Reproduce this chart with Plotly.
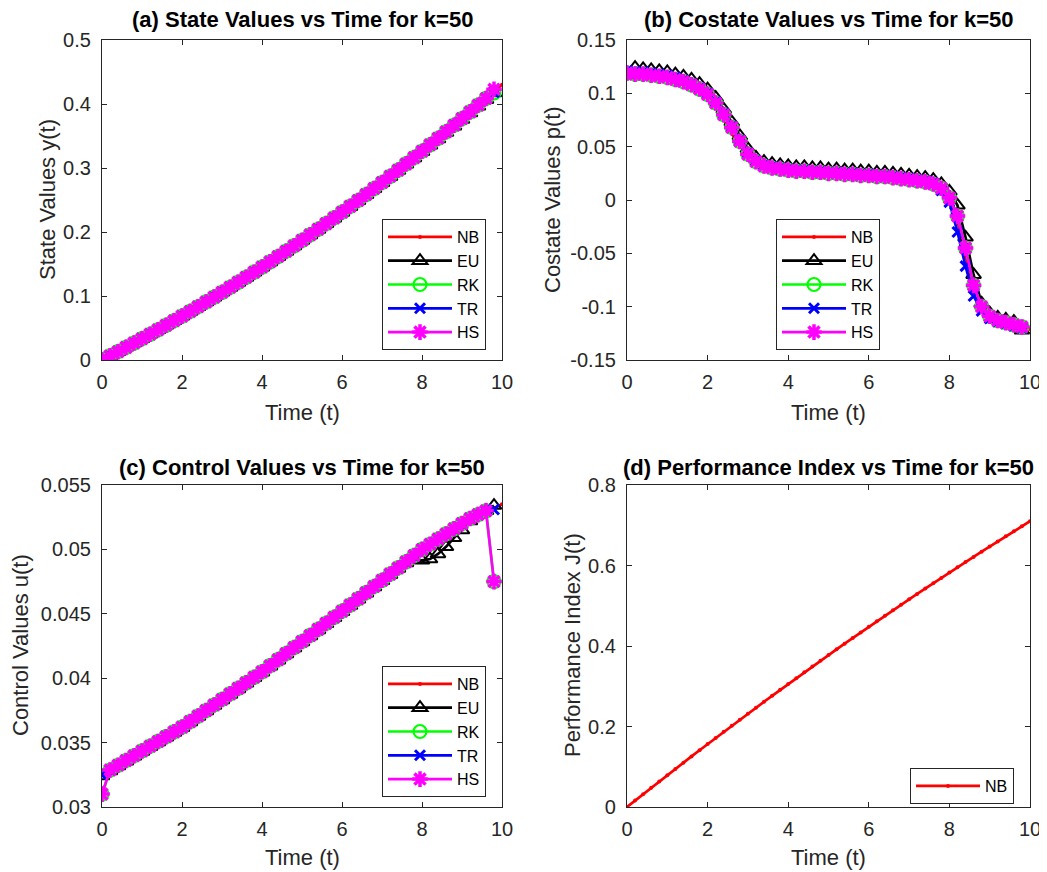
import plotly.graph_objects as go

# ---------------- data ----------------
t50 = [0.0, 0.2, 0.4, 0.6, 0.8, 1.0, 1.2, 1.4, 1.6, 1.8,
       2.0, 2.2, 2.4, 2.6, 2.8, 3.0, 3.2, 3.4, 3.6, 3.8,
       4.0, 4.2, 4.4, 4.6, 4.8, 5.0, 5.2, 5.4, 5.6, 5.8,
       6.0, 6.2, 6.4, 6.6, 6.8, 7.0, 7.2, 7.4, 7.6, 7.8,
       8.0, 8.2, 8.4, 8.6, 8.8, 9.0, 9.2, 9.4, 9.6, 9.8]
t51 = t50 + [10.0]

# (a) state y(t)
y_NB = [0.0, 0.00654, 0.01315, 0.01984, 0.02660, 0.03343, 0.04034, 0.04732, 0.05438, 0.06151,
        0.06871, 0.07599, 0.08336, 0.09082, 0.09836, 0.10599, 0.11370, 0.12150, 0.12939, 0.13736,
        0.14542, 0.15357, 0.16181, 0.17015, 0.17858, 0.18710, 0.19572, 0.20443, 0.21324, 0.22214,
        0.23113, 0.24022, 0.24940, 0.25868, 0.26806, 0.27753, 0.28710, 0.29676, 0.30652, 0.31638,
        0.32633, 0.33637, 0.34649, 0.35669, 0.36697, 0.37733, 0.38777, 0.39828, 0.40885, 0.41947, 0.43014]
y_EU = [0.0, 0.00650, 0.01308, 0.01975, 0.02650, 0.03331, 0.04020, 0.04717, 0.05421, 0.06133,
        0.06852, 0.07578, 0.08313, 0.09057, 0.09810, 0.10571, 0.11340, 0.12118, 0.12905, 0.13700,
        0.14504, 0.15317, 0.16139, 0.16971, 0.17812, 0.18662, 0.19522, 0.20391, 0.21270, 0.22158,
        0.23055, 0.23962, 0.24878, 0.25804, 0.26740, 0.27685, 0.28640, 0.29604, 0.30578, 0.31562,
        0.32555, 0.33540, 0.34530, 0.35530, 0.36540, 0.37560, 0.38590, 0.39630, 0.40670, 0.41700]
y_RK = [0.0, 0.00640, 0.01300, 0.01970, 0.02645, 0.03328, 0.04019, 0.04717, 0.05423, 0.06136,
        0.06856, 0.07584, 0.08321, 0.09067, 0.09821, 0.10584, 0.11355, 0.12135, 0.12924, 0.13721,
        0.14527, 0.15342, 0.16166, 0.17000, 0.17843, 0.18695, 0.19557, 0.20428, 0.21309, 0.22199,
        0.23098, 0.24007, 0.24925, 0.25853, 0.26791, 0.27738, 0.28695, 0.29661, 0.30637, 0.31623,
        0.32618, 0.33622, 0.34634, 0.35654, 0.36682, 0.37718, 0.38762, 0.39813, 0.40870, 0.41740]
y_TR = [0.0, 0.00654, 0.01315, 0.01984, 0.02660, 0.03343, 0.04034, 0.04732, 0.05438, 0.06151,
        0.06871, 0.07599, 0.08336, 0.09082, 0.09836, 0.10599, 0.11370, 0.12150, 0.12939, 0.13736,
        0.14542, 0.15357, 0.16181, 0.17015, 0.17858, 0.18710, 0.19572, 0.20443, 0.21324, 0.22214,
        0.23113, 0.24022, 0.24940, 0.25868, 0.26806, 0.27753, 0.28710, 0.29676, 0.30652, 0.31638,
        0.32633, 0.33637, 0.34649, 0.35669, 0.36697, 0.37733, 0.38777, 0.39828, 0.40885, 0.41850]
y_HS = [0.0, 0.00640, 0.01300, 0.01970, 0.02645, 0.03328, 0.04019, 0.04717, 0.05423, 0.06136,
        0.06856, 0.07584, 0.08321, 0.09067, 0.09821, 0.10584, 0.11355, 0.12135, 0.12924, 0.13721,
        0.14527, 0.15342, 0.16166, 0.17000, 0.17843, 0.18695, 0.19557, 0.20428, 0.21309, 0.22199,
        0.23098, 0.24007, 0.24925, 0.25853, 0.26791, 0.27738, 0.28695, 0.29661, 0.30637, 0.31623,
        0.32618, 0.33622, 0.34634, 0.35654, 0.36682, 0.37718, 0.38762, 0.39813, 0.40870, 0.42300]

# (b) costate p(t)
p_NB = [0.119, 0.118, 0.118, 0.117, 0.116, 0.115, 0.113, 0.111, 0.107, 0.102,
        0.096, 0.087, 0.075, 0.062, 0.051, 0.041, 0.035, 0.032, 0.030, 0.029,
        0.028, 0.027, 0.027, 0.026, 0.026, 0.025, 0.025, 0.024, 0.024, 0.023,
        0.023, 0.022, 0.022, 0.021, 0.020, 0.019, 0.018, 0.017, 0.015, 0.010,
        0.000, -0.020, -0.052, -0.085, -0.102, -0.110, -0.114, -0.116, -0.118, -0.120, -0.121]
p_EU = [0.117, 0.124, 0.123, 0.122, 0.121, 0.120, 0.118, 0.116, 0.113, 0.109,
        0.104, 0.096, 0.085, 0.073, 0.060, 0.048, 0.040, 0.036, 0.034, 0.033,
        0.032, 0.031, 0.031, 0.030, 0.030, 0.029, 0.029, 0.028, 0.028, 0.027,
        0.027, 0.026, 0.026, 0.025, 0.024, 0.023, 0.022, 0.021, 0.019, 0.015,
        0.008, -0.005, -0.035, -0.070, -0.097, -0.106, -0.110, -0.112, -0.114, -0.122]
p_RK = [0.119, 0.118, 0.118, 0.117, 0.116, 0.115, 0.113, 0.111, 0.108, 0.104,
        0.099, 0.091, 0.080, 0.068, 0.055, 0.043, 0.036, 0.032, 0.030, 0.029,
        0.028, 0.027, 0.027, 0.026, 0.026, 0.025, 0.025, 0.024, 0.024, 0.023,
        0.023, 0.022, 0.022, 0.021, 0.020, 0.019, 0.018, 0.017, 0.015, 0.011,
        0.002, -0.015, -0.045, -0.080, -0.100, -0.109, -0.113, -0.115, -0.117, -0.119]
p_TR = [0.121, 0.120, 0.120, 0.119, 0.118, 0.117, 0.115, 0.112, 0.109, 0.105,
        0.100, 0.092, 0.081, 0.069, 0.056, 0.044, 0.037, 0.033, 0.031, 0.030,
        0.029, 0.028, 0.028, 0.027, 0.027, 0.026, 0.026, 0.025, 0.025, 0.024,
        0.024, 0.023, 0.023, 0.022, 0.021, 0.020, 0.019, 0.018, 0.016, 0.009,
        -0.002, -0.030, -0.062, -0.090, -0.104, -0.111, -0.114, -0.116, -0.118, -0.120]
p_HS = [0.119, 0.118, 0.118, 0.117, 0.116, 0.115, 0.113, 0.111, 0.108, 0.104,
        0.099, 0.091, 0.080, 0.068, 0.055, 0.043, 0.036, 0.032, 0.030, 0.029,
        0.028, 0.027, 0.027, 0.026, 0.026, 0.025, 0.025, 0.024, 0.024, 0.023,
        0.023, 0.022, 0.022, 0.021, 0.020, 0.019, 0.018, 0.017, 0.015, 0.011,
        0.002, -0.015, -0.045, -0.080, -0.100, -0.109, -0.113, -0.115, -0.117, -0.119]

# (c) control u(t)
u_NB = [0.03250, 0.03287, 0.03324, 0.03361, 0.03398, 0.03435, 0.03472, 0.03509, 0.03546, 0.03583,
        0.03620, 0.03663, 0.03706, 0.03749, 0.03792, 0.03835, 0.03878, 0.03921, 0.03964, 0.04007,
        0.04050, 0.04097, 0.04144, 0.04191, 0.04238, 0.04285, 0.04332, 0.04379, 0.04426, 0.04473,
        0.04520, 0.04568, 0.04616, 0.04664, 0.04712, 0.04760, 0.04808, 0.04856, 0.04904, 0.04952,
        0.05000, 0.05040, 0.05080, 0.05120, 0.05160, 0.05200, 0.05240, 0.05270, 0.05300, 0.05320, 0.05350]
u_EU = [0.03240, 0.03280, 0.03318, 0.03356, 0.03394, 0.03431, 0.03468, 0.03505, 0.03542, 0.03579,
        0.03616, 0.03659, 0.03702, 0.03745, 0.03788, 0.03831, 0.03874, 0.03917, 0.03960, 0.04003,
        0.04046, 0.04093, 0.04140, 0.04187, 0.04234, 0.04281, 0.04328, 0.04375, 0.04422, 0.04469,
        0.04516, 0.04564, 0.04612, 0.04660, 0.04708, 0.04756, 0.04804, 0.04852, 0.04895, 0.04920,
        0.04915, 0.04925, 0.04965, 0.05020, 0.05090, 0.05150, 0.05220, 0.05270, 0.05300, 0.05340]
u_RK = [0.03100, 0.03287, 0.03324, 0.03361, 0.03398, 0.03435, 0.03472, 0.03509, 0.03546, 0.03583,
        0.03620, 0.03663, 0.03706, 0.03749, 0.03792, 0.03835, 0.03878, 0.03921, 0.03964, 0.04007,
        0.04050, 0.04097, 0.04144, 0.04191, 0.04238, 0.04285, 0.04332, 0.04379, 0.04426, 0.04473,
        0.04520, 0.04568, 0.04616, 0.04664, 0.04712, 0.04760, 0.04808, 0.04856, 0.04904, 0.04952,
        0.05000, 0.05040, 0.05080, 0.05120, 0.05160, 0.05200, 0.05240, 0.05270, 0.05300, 0.04750]
u_TR = [0.03250, 0.03287, 0.03324, 0.03361, 0.03398, 0.03435, 0.03472, 0.03509, 0.03546, 0.03583,
        0.03620, 0.03663, 0.03706, 0.03749, 0.03792, 0.03835, 0.03878, 0.03921, 0.03964, 0.04007,
        0.04050, 0.04097, 0.04144, 0.04191, 0.04238, 0.04285, 0.04332, 0.04379, 0.04426, 0.04473,
        0.04520, 0.04568, 0.04616, 0.04664, 0.04712, 0.04760, 0.04808, 0.04856, 0.04904, 0.04952,
        0.05000, 0.05040, 0.05080, 0.05120, 0.05160, 0.05200, 0.05240, 0.05270, 0.05300, 0.05310]
u_HS = [0.03100, 0.03287, 0.03324, 0.03361, 0.03398, 0.03435, 0.03472, 0.03509, 0.03546, 0.03583,
        0.03620, 0.03663, 0.03706, 0.03749, 0.03792, 0.03835, 0.03878, 0.03921, 0.03964, 0.04007,
        0.04050, 0.04097, 0.04144, 0.04191, 0.04238, 0.04285, 0.04332, 0.04379, 0.04426, 0.04473,
        0.04520, 0.04568, 0.04616, 0.04664, 0.04712, 0.04760, 0.04808, 0.04856, 0.04904, 0.04952,
        0.05000, 0.05040, 0.05080, 0.05120, 0.05160, 0.05200, 0.05240, 0.05270, 0.05300, 0.04750]

# (d) performance index J(t)
J_NB = [0.0, 0.0160, 0.0319, 0.0477, 0.0634, 0.0791, 0.0947, 0.1102, 0.1257, 0.1411,
        0.1564, 0.1716, 0.1868, 0.2019, 0.2169, 0.2319, 0.2468, 0.2616, 0.2763, 0.2910,
        0.3056, 0.3201, 0.3346, 0.3490, 0.3633, 0.3775, 0.3917, 0.4058, 0.4198, 0.4337,
        0.4476, 0.4614, 0.4751, 0.4888, 0.5024, 0.5159, 0.5293, 0.5427, 0.5560, 0.5692,
        0.5824, 0.5955, 0.6085, 0.6214, 0.6343, 0.6471, 0.6598, 0.6725, 0.6851, 0.6976, 0.7100]

x_ticks = [0, 2, 4, 6, 8, 10]
y_ticks_a = [0, 0.1, 0.2, 0.3, 0.4, 0.5]
y_text_a = ["0", "0.1", "0.2", "0.3", "0.4", "0.5"]
y_ticks_b = [-0.15, -0.1, -0.05, 0, 0.05, 0.1, 0.15]
y_text_b = ["-0.15", "-0.1", "-0.05", "0", "0.05", "0.1", "0.15"]
y_ticks_c = [0.03, 0.035, 0.04, 0.045, 0.05, 0.055]
y_text_c = ["0.03", "0.035", "0.04", "0.045", "0.05", "0.055"]
y_ticks_d = [0, 0.2, 0.4, 0.6, 0.8]
y_text_d = ["0", "0.2", "0.4", "0.6", "0.8"]

titles = ["(a) State Values vs Time for k=50", "(b) Costate Values vs Time for k=50",
          "(c) Control Values vs Time for k=50", "(d) Performance Index vs Time for k=50"]
ylabels = ["State Values y(t)", "Costate Values p(t)", "Control Values u(t)", "Performance Index J(t)"]
xlabel = "Time (t)"

# ---------------- figure ----------------
# the page body has an 8 px margin at top/left, so the figure is made 8 px
# smaller and screen positions are shifted by that margin
OFF = 8
W, H = 1047 - OFF, 872 - OFF
FONT = "Liberation Sans, Arial, Helvetica, sans-serif"
AX = "#262626"

def px(x):
    return (x - OFF) / W

def py(y):
    return 1 - (y - OFF) / H

styles = {
    "NB": dict(color="#ff0000", line=2.7, symbol="circle", size=4, mlw=0),
    "EU": dict(color="#000000", line=2.7, symbol="triangle-up-open", size=13, mlw=2),
    "RK": dict(color="#00ff00", line=2.7, symbol="circle-open", size=13, mlw=2.2),
    "TR": dict(color="#0000ff", line=2.7, symbol="x-thin-open", size=10, mlw=3),
    "HS": dict(color="#ff00ff", line=2.7, symbol="asterisk-open", size=13, mlw=3.5),
}

fig = go.Figure()

def add(name, x, y, xa, ya, legend):
    s = styles[name]
    fig.add_trace(go.Scatter(
        x=x, y=y, name=name, mode="lines+markers", xaxis=xa, yaxis=ya, legend=legend,
        line=dict(color=s["color"], width=s["line"]),
        marker=dict(symbol=s["symbol"], size=s["size"], color=s["color"],
                    line=dict(color=s["color"], width=s["mlw"])),
    ))

sets = [
    ("x", "y", "legend", [y_NB, y_EU, y_RK, y_TR, y_HS]),
    ("x2", "y2", "legend2", [p_NB, p_EU, p_RK, p_TR, p_HS]),
    ("x3", "y3", "legend3", [u_NB, u_EU, u_RK, u_TR, u_HS]),
]
for xa, ya, lg, series in sets:
    for name, vals in zip(["NB", "EU", "RK", "TR", "HS"], series):
        add(name, t51 if name == "NB" else t50, vals, xa, ya, lg)
add("NB", t51, J_NB, "x4", "y4", "legend4")

xdom_l = [px(102), px(502)]
xdom_r = [px(627), px(1030)]
ydom_t = [py(360), py(40)]
ydom_b = [py(807), py(485)]

def axis_common():
    return dict(showline=True, linecolor=AX, linewidth=1.2, mirror="ticks",
                ticks="inside", ticklen=5, tickwidth=1.2, tickcolor=AX,
                showgrid=False, zeroline=False, automargin=False,
                tickfont=dict(family=FONT, size=20, color=AX))

layout_axes = {}
specs = [
    ("xaxis", "yaxis", "x", "y", xdom_l, ydom_t, [0, 0.5], y_ticks_a, y_text_a),
    ("xaxis2", "yaxis2", "x2", "y2", xdom_r, ydom_t, [-0.15, 0.15], y_ticks_b, y_text_b),
    ("xaxis3", "yaxis3", "x3", "y3", xdom_l, ydom_b, [0.03, 0.055], y_ticks_c, y_text_c),
    ("xaxis4", "yaxis4", "x4", "y4", xdom_r, ydom_b, [0, 0.8], y_ticks_d, y_text_d),
]
for xk, yk, xid, yid, xd, yd, yr, yt, ytt in specs:
    xa = axis_common()
    xa.update(domain=xd, range=[0, 10], tickvals=x_ticks, ticktext=[str(v) for v in x_ticks],
              anchor=yid, ticklabelstandoff=4)
    ya = axis_common()
    ya.update(domain=yd, range=yr, tickvals=yt, ticktext=ytt, anchor=xid, ticklabelstandoff=6)
    layout_axes[xk] = xa
    layout_axes[yk] = ya

def legend_at(lx, ly):
    return dict(x=px(lx), y=py(ly), xanchor="left", yanchor="top",
                bgcolor="white", bordercolor=AX, borderwidth=1,
                font=dict(family=FONT, size=16, color="#000000"),
                itemwidth=64, tracegroupgap=0, itemsizing="trace")

annotations = []
centers = [(302, 20, 47, 200), (828, 20, 552, 200), (302, 467, 20, 645), (828, 467, 572, 645)]
xlab_y = [412, 412, 857, 857]
for i, (cx, ty, lx, ly) in enumerate(centers):
    annotations.append(dict(text="<b>%s</b>" % titles[i], x=px(cx), y=py(ty), xref="paper", yref="paper",
                            showarrow=False, xanchor="center", yanchor="middle",
                            font=dict(family=FONT, size=22, color="#000000")))
    annotations.append(dict(text=xlabel, x=px(cx), y=py(xlab_y[i]), xref="paper", yref="paper",
                            showarrow=False, xanchor="center", yanchor="middle",
                            font=dict(family=FONT, size=22, color=AX)))
    annotations.append(dict(text=ylabels[i], x=px(lx), y=py(ly), xref="paper", yref="paper",
                            showarrow=False, xanchor="center", yanchor="middle", textangle=-90,
                            font=dict(family=FONT, size=22, color=AX)))

fig.update_layout(
    width=W, height=H, margin=dict(l=0, r=0, t=0, b=0, pad=0, autoexpand=False),
    paper_bgcolor="white", plot_bgcolor="white",
    showlegend=True,
    legend=legend_at(382, 219),
    legend2=legend_at(776, 219),
    legend3=legend_at(382, 666),
    legend4=legend_at(910, 768),
    annotations=annotations,
    **layout_axes,
)

fig.write_html("out.html")
